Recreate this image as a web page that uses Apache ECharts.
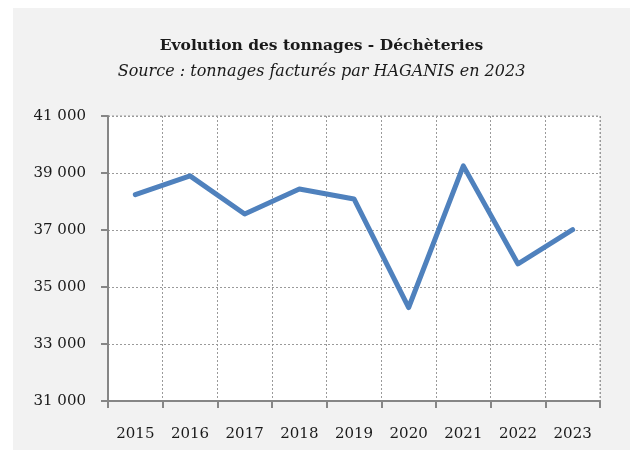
<!DOCTYPE html>
<html>
<head>
<meta charset="utf-8">
<script src="https://cdn.jsdelivr.net/npm/echarts@6/dist/echarts.min.js"></script>
<style>
  html, body { margin: 0; padding: 0; background: #ffffff; }
  #chart { position: absolute; left: 13px; top: 8px; width: 617px; height: 442px; background: #f2f2f2; }
</style>
</head>
<body>
<div id="chart"></div>
<script>
// tonnages déchèteries par année
const years = ['2015', '2016', '2017', '2018', '2019', '2020', '2021', '2022', '2023']
const tonnages = [38240, 38900, 37560, 38440, 38090, 34280, 39250, 35810, 37010]
const yMin = 31000
const yMax = 41000
const yStep = 2000

const serif = '"DejaVu Serif", "Liberation Serif", serif'

const chart = echarts.init(document.getElementById('chart'))
chart.setOption({
  backgroundColor: '#f2f2f2',
  title: {
    text: 'Evolution des tonnages - Déchèteries',
    subtext: 'Source : tonnages facturés par HAGANIS en 2023',
    left: 'center',
    top: 25,
    itemGap: 10,
    textStyle: { fontFamily: serif, fontSize: 15.5, fontWeight: 'bold', color: '#1a1a1a' },
    subtextStyle: { fontFamily: serif, fontSize: 16, fontStyle: 'italic', color: '#1a1a1a' }
  },
  grid: { left: 95, right: 30, top: 108, bottom: 49, show: true, backgroundColor: '#ffffff', borderWidth: 0 },
  xAxis: {
    type: 'category',
    data: years,
    boundaryGap: true,
    axisLine: { lineStyle: { color: '#868686', width: 2 } },
    axisTick: { show: true, length: 7, lineStyle: { color: '#868686', width: 2 } },
    axisLabel: { fontFamily: serif, fontSize: 15, color: '#1a1a1a', margin: 26 },
    splitLine: { show: true, lineStyle: { color: '#9a9a9a', type: [2, 2], width: 1 } }
  },
  yAxis: {
    type: 'value',
    min: yMin,
    max: yMax,
    interval: yStep,
    axisLine: { show: true, lineStyle: { color: '#868686', width: 2 } },
    axisTick: { show: true, length: 7, lineStyle: { color: '#868686', width: 2 } },
    axisLabel: {
      fontFamily: serif, fontSize: 15, color: '#1a1a1a', margin: 22,
      formatter: v => String(v).replace(/\B(?=(\d{3})+(?!\d))/g, ' ')
    },
    splitLine: { show: true, lineStyle: { color: '#9a9a9a', type: [2, 2], width: 1 } }
  },
  series: [{
    type: 'line',
    data: tonnages,
    symbol: 'none',
    lineStyle: { color: '#4f81bd', width: 5, cap: 'round', join: 'round' },
    animation: false
  }],
  graphic: [{
    type: 'line',
    shape: { x1: 95, y1: 108, x2: 587, y2: 108 },
    style: { stroke: '#9a9a9a', lineDash: [2, 2], lineWidth: 1 }
  }, {
    type: 'line',
    shape: { x1: 587, y1: 108, x2: 587, y2: 393 },
    style: { stroke: '#9a9a9a', lineDash: [2, 2], lineWidth: 1 }
  }]
})
</script>
</body>
</html>
